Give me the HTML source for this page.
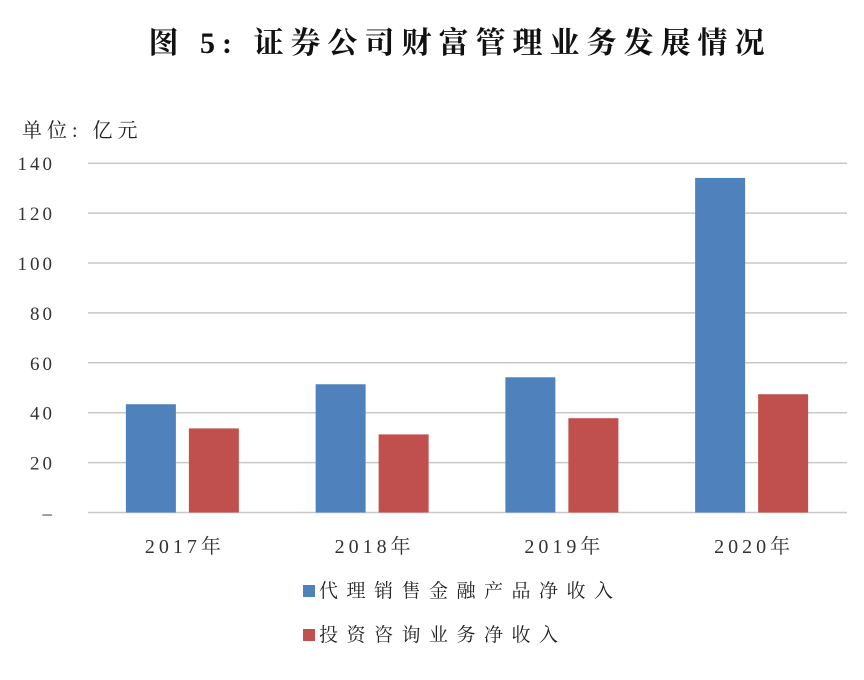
<!DOCTYPE html>
<html><head><meta charset="utf-8"><style>
body{margin:0;background:#fff;width:864px;height:675px;overflow:hidden}
text{font-family:"Liberation Serif","Noto Serif CJK SC",serif}
</style></head><body>
<svg id="chart" width="864" height="675" xmlns="http://www.w3.org/2000/svg">
<text x="460" y="53" text-anchor="middle" font-size="30" font-weight="bold" fill="#111" letter-spacing="7" style="font-family:'Liberation Serif','Noto Serif CJK SC',serif">图 5:  证券公司财富管理业务发展情况</text>
<text x="22" y="137" font-size="20" fill="#222" letter-spacing="5" style="font-family:'Liberation Serif','Noto Serif CJK SC',serif">单位: 亿元</text>
<g id="grid"></g><g id="bars"></g><g id="xlabels"></g>
<rect x="303" y="585" width="12" height="12" fill="#4f81bd"/>
<text x="319" y="597" font-size="19" fill="#222" letter-spacing="8.5">代理销售金融产品净收入</text>
<rect x="303" y="629" width="12" height="12" fill="#c0504d"/>
<text x="319" y="641" font-size="19" fill="#222" letter-spacing="8.5">投资咨询业务净收入</text>
</svg>
<script>
const categories=["2017年","2018年","2019年","2020年"];
const salesValues=[43.4,51.4,54.2,134.1];
const advisoryValues=[33.7,31.3,37.8,47.4];
const yTicks=[0,20,40,60,80,100,120,140];
const yTickLabels=["–","20","40","60","80","100","120","140"];
const NS="http://www.w3.org/2000/svg";
const x0=88,x1=847,y0=512.5,pxPerUnit=2.495;
const y=v=>y0-v*pxPerUnit;
const band=(x1-x0)/categories.length;
function mk(t,a,p){const e=document.createElementNS(NS,t);for(const k in a)e.setAttribute(k,a[k]);p.appendChild(e);return e;}
const grid=document.getElementById('grid');
yTicks.forEach((t,i)=>{
 const l=mk('line',{x1:x0,x2:x1,y1:y(t),y2:y(t),stroke:'#c8c8c8','stroke-width':1.5},grid);
 
 
 const tx=mk('text',{x:55,y:y(t)+7,'text-anchor':'end','font-size':19,fill:'#333','letter-spacing':3},grid);
 tx.textContent=yTickLabels[i];
 
 
});
const bars=document.getElementById('bars'),xl=document.getElementById('xlabels');
const bw=50;
categories.forEach((c,i)=>{
 const cx=x0+band*(i+0.5);
 const b1=mk('rect',{x:cx-57,y:y(salesValues[i]),width:bw,height:salesValues[i]*pxPerUnit,fill:'#4f81bd'},bars);
 
 
 const b2=mk('rect',{x:cx+6,y:y(advisoryValues[i]),width:bw,height:advisoryValues[i]*pxPerUnit,fill:'#c0504d'},bars);
 
 
 const t=mk('text',{x:cx+2,y:553,'text-anchor':'middle','font-size':20,fill:'#333','letter-spacing':4},xl);
 t.textContent=c;
 
 
});
</script>
</body></html>
